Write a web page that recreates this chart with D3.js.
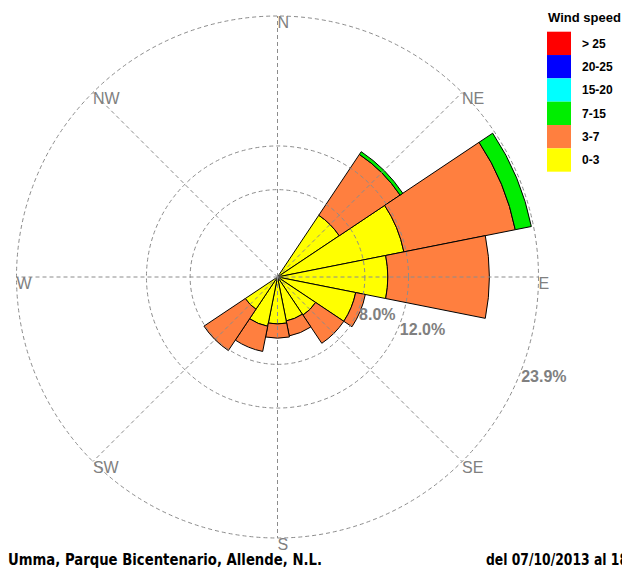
<!DOCTYPE html>
<html>
<head>
<meta charset="utf-8">
<script src="https://cdn.jsdelivr.net/npm/d3@7"></script>
<style>
  body { margin: 0; background: #fff; }
  svg { display: block; font-family: "Liberation Sans", Arial, sans-serif; }
</style>
</head>
<body>
<svg id="rose" width="622" height="568"></svg>
<script>
const svg = d3.select("#rose");

// 16 sectors, clockwise from north
const directions = ["N", "NNE", "NE", "ENE", "E", "ESE", "SE", "SSE",
                    "S", "SSW", "SW", "WSW", "W", "WNW", "NW", "NNW"];

// frequency (%) per direction for each speed class
const freq_0_3   = [0, 0, 6.8, 11.8, 10.1, 7.3, 4.2, 4.1, 4.3, 4.6, 3.55, 0, 0, 0, 0, 0];
const freq_3_7   = [0, 0, 6.7, 10.4, 9.3, 0.9, 3.1, 1.4, 1.3, 2.35, 4.55, 0, 0, 0, 0, 0];
const freq_7_15  = [0, 0, 0.3, 1.5, 0, 0, 0, 0, 0, 0, 0, 0, 0, 0, 0, 0];
const freq_15_20 = [0, 0, 0, 0, 0, 0, 0, 0, 0, 0, 0, 0, 0, 0, 0, 0];
const freq_20_25 = [0, 0, 0, 0, 0, 0, 0, 0, 0, 0, 0, 0, 0, 0, 0, 0];
const freq_25    = [0, 0, 0, 0, 0, 0, 0, 0, 0, 0, 0, 0, 0, 0, 0, 0];

const speedClasses = ["0-3", "3-7", "7-15", "15-20", "20-25", "> 25"];
const speedColors = ["#FFFF00", "#FF7F3F", "#00EE00", "#00FFFF", "#0000FF", "#FF0000"];

const ringValues = [8, 12, 23.9];
const ringLabels = ["8.0%", "12.0%", "23.9%"];
const compassLabels = ["N", "NE", "E", "SE", "S", "SW", "W", "NW"];

const title = "Umma, Parque Bicentenario, Allende, N.L.";
const period = "del 07/10/2013 al 18";

const cx = 277.5, cy = 277;
const R = 261;
const rscale = d3.scaleLinear().domain([0, 23.9]).range([0, R]);
const GRID = "#8c8c8c";
const step = Math.PI * 2 / directions.length;

// stacked data
const rows = directions.map((d, i) => ({
    dir: d, i: i,
    "0-3": freq_0_3[i], "3-7": freq_3_7[i], "7-15": freq_7_15[i],
    "15-20": freq_15_20[i], "20-25": freq_20_25[i], "> 25": freq_25[i]
}));
const stacked = d3.stack().keys(speedClasses)(rows);

const arc = d3.arc();
const rose = svg.append("g").attr("transform", `translate(${cx},${cy})`);

stacked.forEach((layer, k) => {
    rose.selectAll(".petal_" + k)
        .data(layer.filter(d => d[1] - d[0] > 0))
        .join("path")
        .attr("class", "petal_" + k)
        .attr("fill", speedColors[k])
        .attr("stroke", "black")
        .attr("stroke-width", 1)
        .attr("d", d => arc({
            innerRadius: rscale(d[0]),
            outerRadius: rscale(d[1]),
            startAngle: d.data.i * step - step / 2,
            endAngle: d.data.i * step + step / 2
        }));
});

// grid on top of petals, like the original
const grid = svg.append("g").attr("transform", `translate(${cx},${cy})`)
    .attr("fill", "none").attr("stroke", GRID).attr("stroke-dasharray", "4,3");
grid.selectAll("circle").data(ringValues).join("circle")
    .attr("r", d => rscale(d));
grid.selectAll("line").data(compassLabels).join("line")
    .attr("x1", 0).attr("y1", 0)
    .attr("x2", (d, i) => R * Math.sin(i * Math.PI / 4))
    .attr("y2", (d, i) => -R * Math.cos(i * Math.PI / 4));

// compass labels, top-left corner on the outer ring
svg.append("g").selectAll("text").data(compassLabels).join("text")
    .attr("x", (d, i) => cx + R * Math.sin(i * Math.PI / 4))
    .attr("y", (d, i) => cy - R * Math.cos(i * Math.PI / 4))
    .attr("dy", "0.72em")
    .attr("fill", "#808080")
    .style("font-size", "16px")
    .text(d => d);

// ring labels
const labelAngle = 111 * Math.PI / 180;
svg.append("g").selectAll("text").data(ringValues).join("text")
    .attr("x", d => cx + rscale(d) * Math.sin(labelAngle))
    .attr("y", d => cy - rscale(d) * Math.cos(labelAngle))
    .attr("dy", "0.72em")
    .attr("fill", "#808080")
    .style("font-size", "16px")
    .style("font-weight", "bold")
    .text((d, i) => ringLabels[i]);

// legend
const legend = svg.append("g").attr("transform", "translate(547,0)");
legend.append("text")
    .attr("x", 1).attr("y", 22)
    .style("font-size", "13px").style("font-weight", "bold")
    .text("Wind speed");
const boxH = 23.33;
const legendOrder = speedClasses.slice().reverse();
const legendColors = speedColors.slice().reverse();
legend.selectAll("rect").data(legendOrder).join("rect")
    .attr("x", 0).attr("y", (d, i) => 31.7 + i * boxH)
    .attr("width", 24).attr("height", boxH)
    .attr("fill", (d, i) => legendColors[i]);
legend.selectAll(".leglabel").data(legendOrder).join("text")
    .attr("class", "leglabel")
    .attr("x", 35).attr("y", (d, i) => 31.7 + i * boxH + boxH / 2)
    .attr("dy", "0.35em")
    .style("font-size", "12px").style("font-weight", "bold")
    .text(d => d);

// footer (the date range runs off the right edge in the original too)
svg.append("text")
    .attr("x", 8).attr("y", 565)
    .style("font-family", "'Liberation Sans Narrow', 'DejaVu Sans Condensed', sans-serif")
    .style("font-size", "15px").style("font-weight", "bold")
    .attr("textLength", 314).attr("lengthAdjust", "spacingAndGlyphs")
    .text(title);
svg.append("text")
    .attr("x", 486).attr("y", 565)
    .style("font-family", "'Liberation Sans Narrow', 'DejaVu Sans Condensed', sans-serif")
    .style("font-size", "15px").style("font-weight", "bold")
    .attr("textLength", 142).attr("lengthAdjust", "spacingAndGlyphs")
    .text(period);
</script>
</body>
</html>
